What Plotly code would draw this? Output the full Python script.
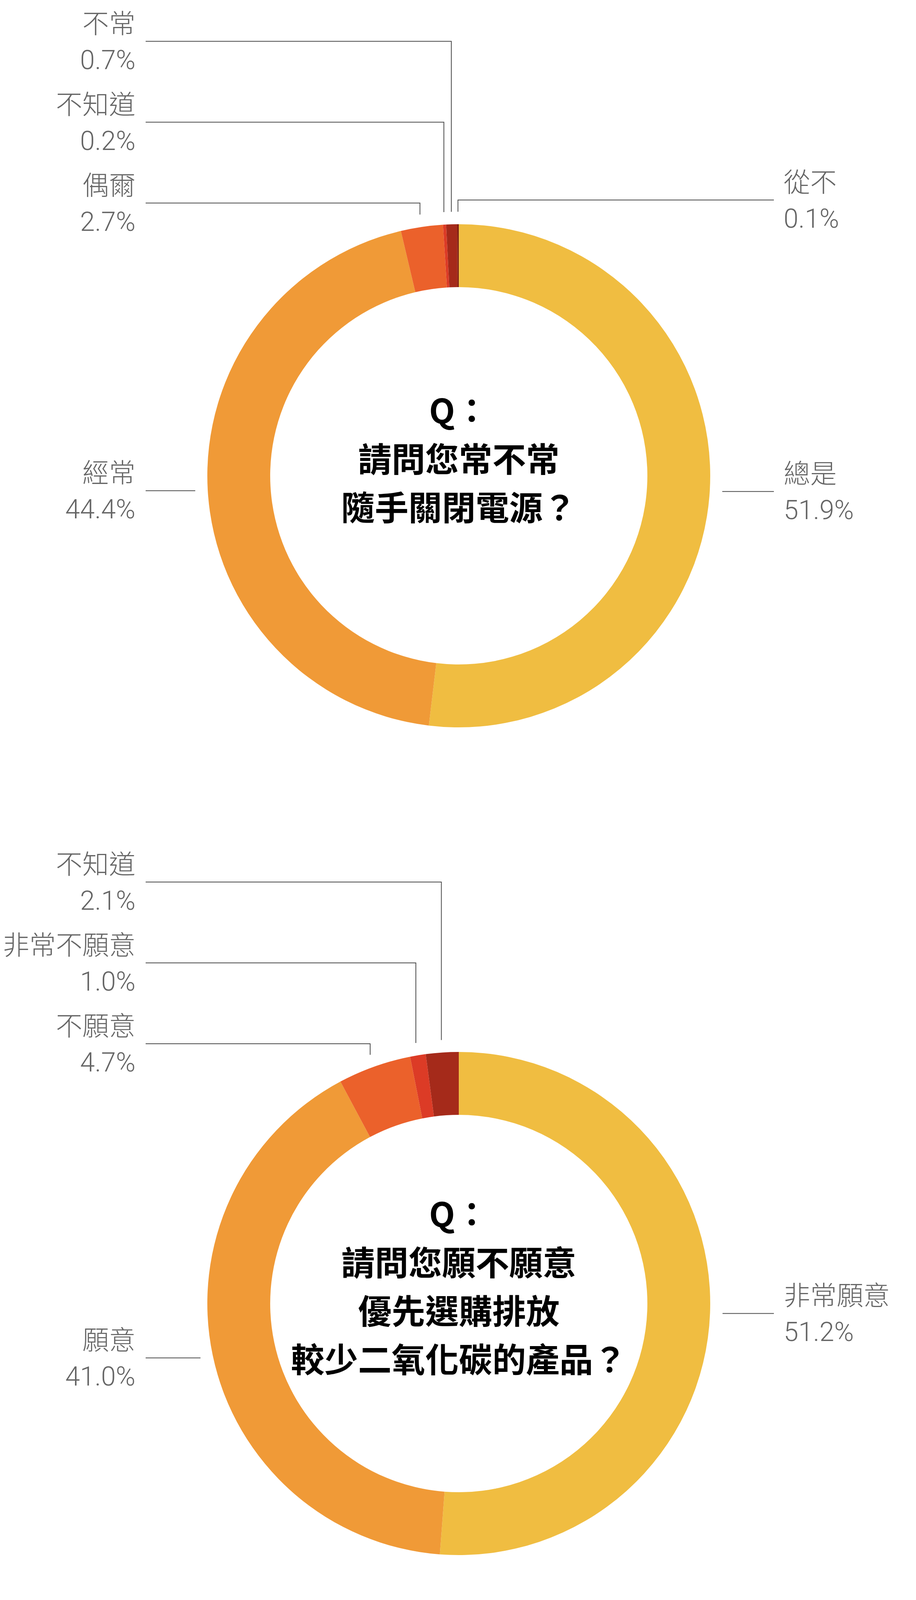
import math
import plotly.graph_objects as go

W, H = 2346, 6028

# survey answers, in the order the slices run clockwise from 12 o'clock
q1_labels = ["總是", "經常", "偶爾", "不知道", "不常", "從不"]
q1_values = [51.9, 44.4, 2.7, 0.2, 0.7, 0.1]
q1_question = ["Q：", "請問您常不常", "隨手關閉電源？"]

q2_labels = ["非常願意", "願意", "不願意", "非常不願意", "不知道"]
q2_values = [51.2, 41.0, 4.7, 1.0, 2.1]
q2_question = ["Q：", "請問您願不願意", "優先選購排放", "較少二氧化碳的產品？"]

q3_labels = ["總是", "經常", "偶爾", "不常", "從不", "不知道", "拒答"]
q3_values = [10.7, 29.5, 34.7, 12.5, 11.1, 1.3, 0.2]
q3_question = ["Q：", "請問您常不常為了", "節省能源而多走樓梯，", "少搭電梯？"]

palette = ["#F0BD41", "#F09A37", "#EB612B", "#DC3B26", "#A52A1A", "#7F1D10", "#F5CC63"]

charts = [
    dict(labels=q1_labels, values=q1_values, question=q1_question, cy=1218),
    dict(labels=q2_labels, values=q2_values, question=q2_question, cy=3337),
    dict(labels=q3_labels, values=q3_values, question=q3_question, cy=5280),
]

# layout in page pixels
CX = 1175
R_OUT = 644
HOLE = 0.75
R_ANCHOR = 676      # where a leader line starts
R_LABEL = 706       # natural height of a label line
GAP = 207           # min distance between stacked labels
LEFT_END, RIGHT_END = 373, 1982
LEFT_TEXT, RIGHT_TEXT = 349, 2005
LINE_COLOR = "#4a4a4a"
TEXT_COLOR = "#666666"
LABEL_FONT = "Roboto, 'Noto Sans CJK TC', sans-serif"
Q_FONT = "'Noto Sans CJK TC', sans-serif"

fig = go.Figure()
annotations = []

for ch in charts:
    cy = ch["cy"]
    labels, values = ch["labels"], ch["values"]
    fig.add_trace(go.Pie(
        labels=labels, values=values, hole=HOLE, sort=False,
        direction="clockwise", rotation=0, textinfo="none",
        marker=dict(colors=palette[:len(values)], line=dict(width=0)),
        hoverinfo="label+percent", showlegend=False,
        domain=dict(x=[(CX - R_OUT) / W, (CX + R_OUT) / W],
                    y=[1 - (cy + R_OUT) / H, 1 - (cy - R_OUT) / H]),
    ))

    total = sum(values)
    cum = 0.0
    items = []
    for lab, v in zip(labels, values):
        mid = (cum + v / 2) / total * 360
        cum += v
        th = math.radians(mid)
        s, c = math.sin(th), math.cos(th)
        # slivers sitting right at 12 o'clock go to the right column
        side = 1 if (mid < 180 or mid > 359.5) else -1
        items.append(dict(label=lab, value=v, s=s, side=side,
                          ax=CX + R_ANCHOR * s, ay=cy - R_ANCHOR * c,
                          ny=cy - R_LABEL * c))

    # stack labels upwards when they would collide
    for side in (1, -1):
        group = sorted([it for it in items if it["side"] == side], key=lambda it: it["ny"])
        if not group:
            continue
        group[-1]["ly"] = group[-1]["ny"]
        for i in range(len(group) - 2, -1, -1):
            group[i]["ly"] = min(group[i]["ny"], group[i + 1]["ly"] - GAP)

    for it in items:
        ly, side = it["ly"], it["side"]
        pushed = ly < it["ny"] - 1
        dy = abs(ly - it["ay"])
        if pushed or abs(it["s"]) < 0.4 or dy < 12:
            bx = it["ax"]
            if dy < 12 and not pushed:
                ly = it["ay"]
        else:
            bx = it["ax"] + side * dy
        end_x = RIGHT_END if side == 1 else LEFT_END
        fig.add_trace(go.Scatter(
            x=[it["ax"], bx, end_x], y=[it["ay"], ly, ly], mode="lines",
            line=dict(color=LINE_COLOR, width=2), hoverinfo="skip",
            showlegend=False, cliponaxis=False,
        ))
        tx = RIGHT_TEXT if side == 1 else LEFT_TEXT
        anchor = "left" if side == 1 else "right"
        annotations.append(dict(
            x=tx, y=ly - 2, xref="x", yref="y", xanchor=anchor, yanchor="bottom",
            text=it["label"], showarrow=False,
            font=dict(family=LABEL_FONT, size=68, color=TEXT_COLOR, weight=300),
        ))
        annotations.append(dict(
            x=tx, y=ly + 6, xref="x", yref="y", xanchor=anchor, yanchor="top",
            text=f"{it['value']:.1f}%", showarrow=False,
            font=dict(family=LABEL_FONT, size=68, color=TEXT_COLOR, weight=300),
        ))

    # question in the hole
    q = ch["question"]
    n = len(q)
    for i, line in enumerate(q):
        annotations.append(dict(
            x=CX, y=cy - 48 + (i - (n - 1) / 2) * 124, xref="x", yref="y",
            xanchor="center", yanchor="middle", text=line, showarrow=False,
            font=dict(family=Q_FONT, size=86, color="#000000", weight="bold"),
        ))

fig.update_layout(
    width=W, height=H,
    margin=dict(l=0, r=0, t=0, b=0),
    paper_bgcolor="white", plot_bgcolor="white",
    xaxis=dict(range=[0, W], visible=False, fixedrange=True),
    yaxis=dict(range=[H, 0], visible=False, fixedrange=True),
    annotations=annotations,
    showlegend=False,
)

fig.write_html("out.html", config={"displayModeBar": False},
               post_script="document.body.style.margin='0';")
